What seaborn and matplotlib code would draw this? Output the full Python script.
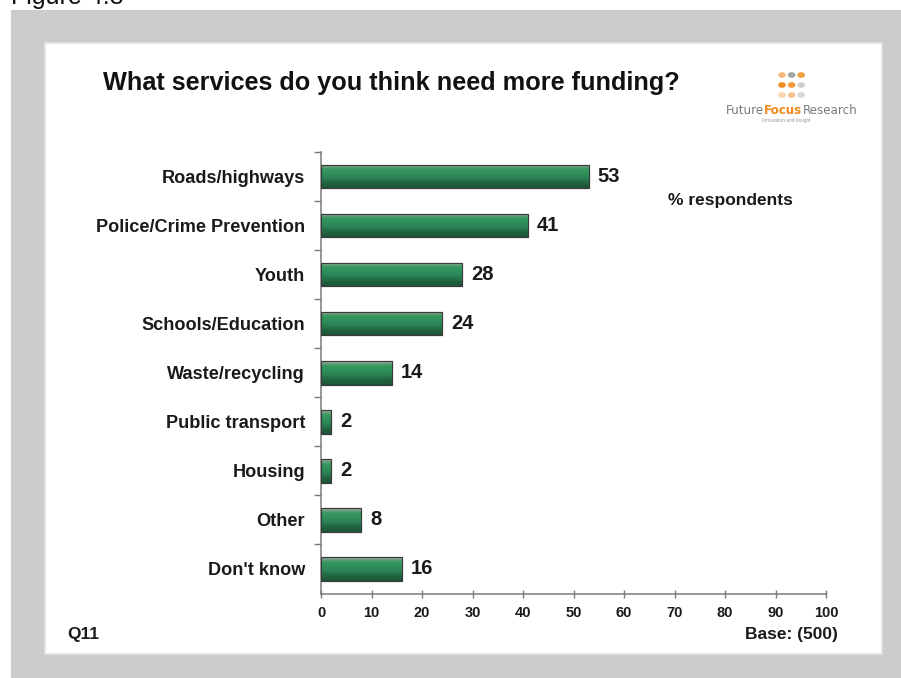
import numpy as np
import pandas as pd
import matplotlib
matplotlib.use("Agg")
import matplotlib.pyplot as plt
from matplotlib.patches import Rectangle, Circle
from matplotlib.colors import LinearSegmentedColormap
import seaborn as sns

# Survey results
categories = ["Roads/highways", "Police/Crime Prevention", "Youth", "Schools/Education",
              "Waste/recycling", "Public transport", "Housing", "Other", "Don't know"]
values = [53, 41, 28, 24, 14, 2, 2, 8, 16]
x_ticks = [0, 10, 20, 30, 40, 50, 60, 70, 80, 90, 100]

sns.set_theme(style="white")
plt.rcParams["font.family"] = ["Liberation Sans", "DejaVu Sans"]

W, H = 901, 678
fig = plt.figure(figsize=(W / 100, H / 100), dpi=100, facecolor="white")

def fx(px):
    return px / W

def fy(py):
    return 1 - py / H

# Frame: grey mount with a white card on it (kept behind the axes)
fig.patches.append(Rectangle((fx(11), 0), fx(W - 11), fy(10), transform=fig.transFigure,
                             facecolor="#cccccc", edgecolor="none", zorder=-10))
fig.patches.append(Rectangle((fx(45), fy(654)), fx(882 - 45), (654 - 43) / H,
                             transform=fig.transFigure, facecolor="white",
                             edgecolor="#e4e4e4", linewidth=1.2, zorder=-9))

fig.text(fx(11), fy(4), "Figure 4.8", fontsize=18, color="#111111",
         ha="left", va="baseline")

ax = fig.add_axes([fx(321), fy(593.5), fx(826 - 321), (593.5 - 152) / H])
ax.set_facecolor("none")

df = pd.DataFrame({"service": categories, "pct": values})
sns.barplot(data=df, x="pct", y="service", orient="h", color="#2e8b57",
            width=0.48, edgecolor="#444444", linewidth=0.8, ax=ax, zorder=3)

# Vertical shading on each bar
grad = LinearSegmentedColormap.from_list(
    "bargrad", ["#a3a3a3", "#36985f", "#30905b", "#2a8053", "#21633f", "#1c5538"])
rows = np.linspace(0, 1, 64).reshape(-1, 1)
for patch in list(ax.patches):
    x0, y0 = patch.get_x(), patch.get_y()
    w, h = patch.get_width(), patch.get_height()
    im = ax.imshow(rows, cmap=grad, aspect="auto", origin="upper",
                   extent=(x0, x0 + w, y0 + h, y0), zorder=3.5,
                   interpolation="bilinear")
    im.set_clip_path(patch)
    ax.add_patch(Rectangle((x0, y0), w, h, facecolor="none",
                           edgecolor="#3a3a3a", linewidth=0.8, zorder=4))

ax.set_xlim(0, 100)
ax.set_ylim(len(categories) - 0.5, -0.5)

# Value labels
for i, v in enumerate(values):
    ax.annotate(str(v), xy=(v, i), xytext=(6.5, 0), textcoords="offset points",
                ha="left", va="center", fontsize=14.5, fontweight="bold",
                color="#1a1a1a", zorder=5, annotation_clip=False)

# Axes styling
for side in ["top", "right"]:
    ax.spines[side].set_visible(False)
for side in ["left", "bottom"]:
    ax.spines[side].set_color("#7a7a7a")
    ax.spines[side].set_linewidth(1.1)

ax.set_xticks(x_ticks)
ax.set_xticklabels([str(t) for t in x_ticks], fontsize=10.5, fontweight="bold",
                   color="#1a1a1a")
ax.tick_params(axis="x", direction="inout", length=6, width=1, color="#7a7a7a",
               pad=6, bottom=True)

ax.set_yticks(range(len(categories)))
ax.set_yticklabels(categories, fontsize=13.1, fontweight="bold", color="#1a1a1a")
ax.tick_params(axis="y", which="major", length=0, pad=11.5)
ax.set_yticks(np.arange(-0.5, len(categories) - 0.5, 1.0), minor=True)
ax.tick_params(axis="y", which="minor", direction="out", length=5, width=1,
               color="#7a7a7a", left=True)
ax.set_xlabel("")
ax.set_ylabel("")

# Titles and notes
fig.text(fx(103), fy(90), "What services do you think need more funding?",
         fontsize=18.2, fontweight="bold", color="#111111", ha="left", va="baseline")
fig.text(fx(668), fy(205), "% respondents", fontsize=12.5, fontweight="bold",
         color="#1a1a1a", ha="left", va="baseline")
fig.text(fx(67), fy(639), "Q11", fontsize=12.5, fontweight="bold",
         color="#1a1a1a", ha="left", va="baseline")
fig.text(fx(838), fy(639), "Base: (500)", fontsize=12.5, fontweight="bold",
         color="#1a1a1a", ha="right", va="baseline")

# Brand mark
dot_colors = [["#f7b978", "#a6a6a6", "#f4a043"],
              ["#f28c22", "#f39b3c", "#cfcfcf"],
              ["#f9d4ad", "#f7c48f", "#d6d6d6"]]
for r, row in enumerate(dot_colors):
    for c, col in enumerate(row):
        fig.patches.append(Circle((fx(782 + 9.6 * c), fy(75 + 10 * r)), 3.8 / W,
                                  transform=fig.transFigure, facecolor=col,
                                  edgecolor="none"))

renderer = fig.canvas.get_renderer()
brand_parts = [("Future", "#7a7a7a", "normal"),
               ("Focus", "#f08a1c", "bold"),
               ("Research", "#7a7a7a", "normal")]
x_px = 726
for word, col, wt in brand_parts:
    t = fig.text(fx(x_px), fy(114), word, fontsize=8.6, color=col, fontweight=wt,
                 ha="left", va="baseline", family="Liberation Sans Narrow")
    x_px += t.get_window_extent(renderer).width
fig.text(fx(762), fy(122), "Innovation and Insight", fontsize=3.5, color="#9a9a9a",
         ha="left", va="baseline")

fig.savefig("out.png", dpi=100, facecolor="white")
